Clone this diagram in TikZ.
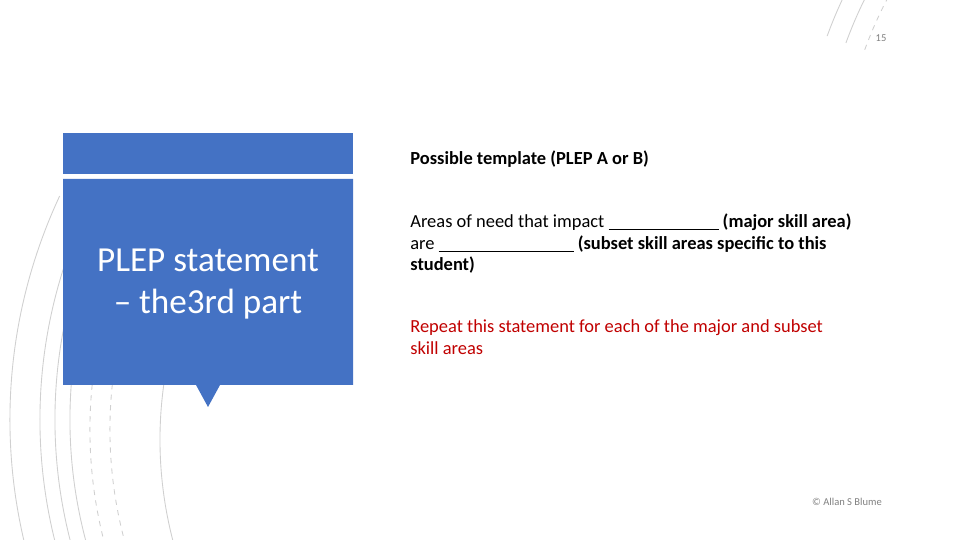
\documentclass[tikz,border=0pt]{standalone}
\usepackage{fontspec}
\setmainfont{Carlito}
\usepackage{xcolor}
\definecolor{SlideBlue}{HTML}{4472C4}
\definecolor{NoteRed}{HTML}{C00000}
\definecolor{ArcGrey}{HTML}{D0D0D0}
\tikzset{
	arcline/.style={ArcGrey,line width=0.5pt},
	bodytext/.style={anchor=north west,align=left,inner sep=0pt,font=\fontsize{10.5}{12.5}\selectfont},
}
\begin{document}
\begin{tikzpicture}[x=0.02cm,y=-0.02cm]
		\def\W{960}  % slide width
		\def\H{540}  % slide height
		
		\useasboundingbox (0,0) rectangle (\W,\H);
		
		% background arcs
		\begin{scope}
			\clip (0,0) rectangle (\W,\H);
			\foreach \r in {470,485,500,530} {
				\draw[arcline] (540,420) ++(120:\r) arc (120:205:\r);
			}
			\foreach \r in {430,450} {
				\draw[arcline,dashed] (540,430) ++(118:\r) arc (118:205:\r);
			}
			\draw[arcline] (560,440) ++(125:400) arc (125:210:400);
			\foreach \r in {420,440,460} {
				\draw[arcline] (1250,330) ++(112:\r) arc (112:140:\r);
			}
			\draw[arcline,dashed] (1250,330) ++(112:400) arc (112:140:400);
			\foreach \r in {430,450} {
				\draw[arcline] (1250,190) ++(200:\r) arc (200:235:\r);
			}
			\draw[arcline,dashed] (1250,190) ++(200:410) arc (200:235:410);
		\end{scope}
		
		% blue boxes
		\fill[SlideBlue] (63,133) rectangle (353,174);
		\fill[SlideBlue] (63,179) -- (353,179) -- (353,385) -- (220,385) -- (208,407) -- (196,385) -- (63,385) -- cycle;
		\node[white,align=center,font=\fontsize{20}{24}\selectfont] (title) at (208,284) {PLEP statement\\ -- the3rd part};
		
		% text column
		\node[bodytext,font=\bfseries\fontsize{10.5}{12.5}\selectfont] (head) at (410,150) {Possible template (PLEP A or B)};
		\node[bodytext] (need) at (410,213) {Areas of need that impact \underline{\hspace{2.2cm}} \textbf{(major skill area)}\\ are \underline{\hspace{2.7cm}} \textbf{(subset skill areas specific to this}\\ \textbf{student)}};
		\node[bodytext,NoteRed] (repeat) at (410,319) {Repeat this statement for each of the major and subset\\ skill areas};
		
		\node[gray,font=\fontsize{6}{7}\selectfont] (page) at (881,38) {15};
		\node[gray,font=\fontsize{6}{7}\selectfont] (credit) at (847,502) {© Allan S Blume};
	\end{tikzpicture}
\end{document}
